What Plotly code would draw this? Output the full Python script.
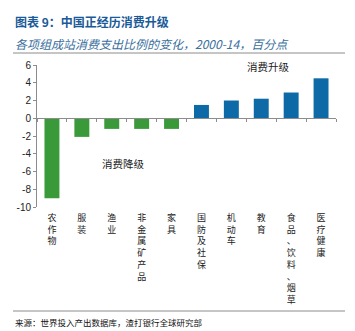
import plotly.graph_objects as go

# 2000-14 change in each category's share of household consumption (percentage points)
categories = ["农作物", "服装", "渔业", "非金属矿产品", "家具",
              "国防及社保", "机动车", "教育", "食品、饮料、烟草", "医疗健康"]
changes = [-9.0, -2.1, -1.2, -1.2, -1.2, 1.5, 2.0, 2.2, 2.9, 4.5]
y_ticks = [6, 4, 2, 0, -2, -4, -6, -8, -10]

GREEN = "#3a9a3a"
BLUE = "#0e6aa6"
GREY = "#8c8c8c"

W, H = 355, 331
M = dict(l=37, r=19, t=65, b=124)
PW = W - M["l"] - M["r"]
PH = H - M["t"] - M["b"]


def px(x):
    return (x - M["l"]) / PW


def py(y):
    return (H - M["b"] - y) / PH


colors = [GREEN if v < 0 else BLUE for v in changes]
vertical = ["<br>".join(c) for c in categories]

fig = go.Figure()
fig.add_trace(go.Bar(x=categories, y=changes, marker_color=colors,
                     marker_line_width=0, width=0.5, xaxis="x", yaxis="y"))
# carrier for the bottom category labels
fig.add_trace(go.Scatter(x=categories, y=[None] * len(categories),
                         mode="markers", xaxis="x2", yaxis="y",
                         showlegend=False, hoverinfo="skip"))

ymin, ymax = -10, 6
zero_pos = (0 - ymin) / (ymax - ymin)

fig.update_layout(
    width=W, height=H, margin=M,
    paper_bgcolor="white", plot_bgcolor="white",
    showlegend=False, bargap=0.5,
    font=dict(family="Noto Sans CJK SC", color="#222222"),
    xaxis=dict(type="category", categoryarray=categories, range=[-0.5, 9.5],
               anchor="free", position=zero_pos,
               showline=True, linecolor=GREY, linewidth=1,
               ticks="outside", tickson="boundaries", ticklen=3,
               tickcolor=GREY, showticklabels=False, showgrid=False,
               zeroline=False, fixedrange=True),
    xaxis2=dict(type="category", categoryarray=categories, range=[-0.5, 9.5],
                overlaying="x", anchor="y", side="bottom",
                showline=False, ticks="", showgrid=False, zeroline=False,
                tickmode="array", tickvals=categories, ticktext=vertical,
                tickangle=0, ticklabelstandoff=4,
                tickfont=dict(family="Noto Sans CJK SC", size=9, color="#222222")),
    yaxis=dict(range=[ymin, ymax], tickvals=y_ticks,
               ticktext=[str(v) for v in y_ticks],
               showline=True, linecolor=GREY, linewidth=1,
               ticks="outside", ticklen=3, tickcolor=GREY,
               showgrid=False, zeroline=False,
               tickfont=dict(family="Liberation Sans", size=10, color="#222222")),
)

annotations = [
    dict(text="<b>图表 9：中国正经历消费升级</b>", x=px(13), y=py(22),
         xanchor="left", yanchor="middle",
         font=dict(size=12, color="#1a5a98")),
    dict(text="<i>各项组成站消费支出比例的变化，2000-14，百分点</i>",
         x=px(13), y=py(43), xanchor="left", yanchor="middle",
         font=dict(size=12, color="#3a6f9e")),
    dict(text="来源：世界投入产出数据库，渣打银行全球研究部", x=px(13), y=py(322),
         xanchor="left", yanchor="middle",
         font=dict(size=8.5, color="#111111")),
    dict(text="消费升级", x=px(268), y=py(66), xanchor="center", yanchor="middle",
         font=dict(size=10.5, color="#222222")),
    dict(text="消费降级", x=px(124), y=py(163), xanchor="center", yanchor="middle",
         font=dict(size=10.5, color="#222222")),
]
for a in annotations:
    a.update(xref="paper", yref="paper", showarrow=False)
fig.update_layout(annotations=annotations)

fig.update_layout(shapes=[
    dict(type="line", xref="paper", yref="paper", x0=px(13), x1=px(345),
         y0=py(53), y1=py(53), line=dict(color=GREY, width=1)),
    dict(type="line", xref="paper", yref="paper", x0=px(13), x1=px(345),
         y0=py(311), y1=py(311), line=dict(color=GREY, width=1)),
])

fig.write_html("out.html")
